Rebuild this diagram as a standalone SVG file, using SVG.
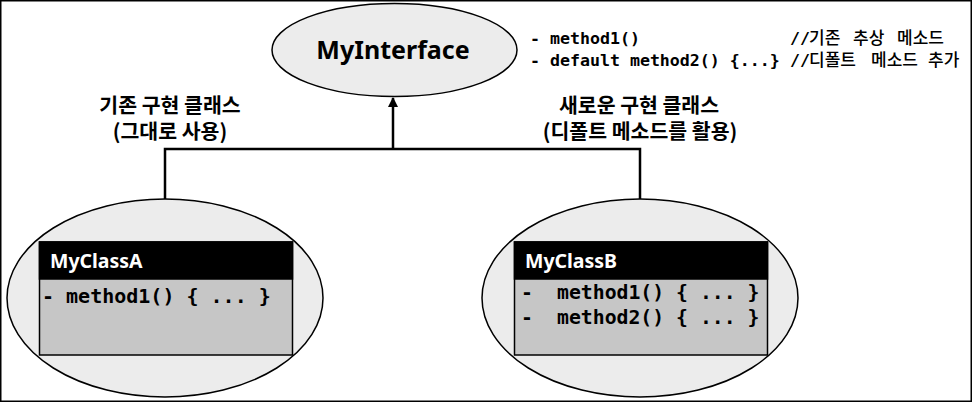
<svg xmlns="http://www.w3.org/2000/svg" width="972" height="402" viewBox="0 0 972 402">
<style>
.frame{fill:#fff;stroke:#000;stroke-width:1.5}
.ell{fill:#ececec;stroke:#000;stroke-width:1.5}
.conn{fill:none;stroke:#000;stroke-width:2.5}
.hdr{fill:#000;stroke:#000;stroke-width:1.5}
.body{fill:#c6c6c6;stroke:#000;stroke-width:1.5}
.sans{font-family:"Noto Sans","Noto Sans CJK KR",sans-serif;font-weight:bold}
.kr{font-family:"Noto Sans CJK KR","Noto Sans",sans-serif;font-weight:bold;font-size:20.5px;fill:#000}
.mono{font-family:"DejaVu Sans Mono","Noto Sans CJK KR",monospace;font-weight:bold}
.krn{font-family:"Noto Sans CJK KR",sans-serif;font-weight:500;font-size:17px}
</style>
<defs>
<marker id="arr" markerWidth="12" markerHeight="12" refX="9" refY="5" orient="auto" markerUnits="userSpaceOnUse">
<path d="M0,0 L10,5 L0,10 Z" fill="#000"/>
</marker>
</defs>
<rect class="frame" x="0.75" y="0.75" width="970.5" height="400.5"/>
<g id="connectors">
<polyline class="conn" points="165,199 165,149 640,149 640,199"/>
<line class="conn" x1="393" y1="149" x2="393" y2="98" marker-end="url(#arr)"/>
</g>
<g id="MyInterface">
<ellipse class="ell" cx="394.5" cy="50" rx="122.5" ry="46.5"/>
<text class="sans" x="393" y="58.5" font-size="25" text-anchor="middle">MyInterface</text>
</g>
<g id="notes">
<text class="mono" font-size="16.6" y="44"><tspan x="530">- method1()</tspan><tspan x="790">//</tspan><tspan class="krn" x="809">기존 </tspan><tspan class="krn" x="853">추상 </tspan><tspan class="krn" x="897">메소드</tspan></text>
<text class="mono" font-size="16.6" y="66"><tspan x="530">- default method2() {...}</tspan><tspan x="790">//</tspan><tspan class="krn" x="809">디폴트 </tspan><tspan class="krn" x="871">메소드 </tspan><tspan class="krn" x="928">추가</tspan></text>
</g>
<g id="labelA">
<text class="kr" x="170" y="113" text-anchor="middle">기존 구현 클래스</text>
<text class="kr" x="170" y="139" text-anchor="middle">(그대로 사용)</text>
</g>
<g id="labelB">
<text class="kr" x="639" y="113" text-anchor="middle">새로운 구현 클래스</text>
<text class="kr" x="640" y="139" text-anchor="middle">(디폴트 메소드를 활용)</text>
</g>
<g id="MyClassA">
<ellipse class="ell" cx="165" cy="298" rx="158" ry="99"/>
<rect class="body" x="39.5" y="242" width="253" height="113"/>
<rect class="hdr" x="39.5" y="242" width="253" height="37"/>
<text class="sans" x="50" y="268" font-size="19.5" fill="#fff">MyClassA</text>
<text class="mono" x="42" y="303" font-size="20">- method1() { ... }</text>
</g>
<g id="MyClassB">
<ellipse class="ell" cx="640" cy="298" rx="158" ry="99"/>
<rect class="body" x="514.5" y="242" width="253" height="113"/>
<rect class="hdr" x="514.5" y="242" width="253" height="37"/>
<text class="sans" x="525" y="268" font-size="19.5" fill="#fff">MyClassB</text>
<text class="mono" y="299" font-size="19.8"><tspan x="521">-</tspan><tspan x="557">method1() { ... }</tspan></text>
<text class="mono" y="324" font-size="19.8"><tspan x="521">-</tspan><tspan x="557">method2() { ... }</tspan></text>
</g>
</svg>
